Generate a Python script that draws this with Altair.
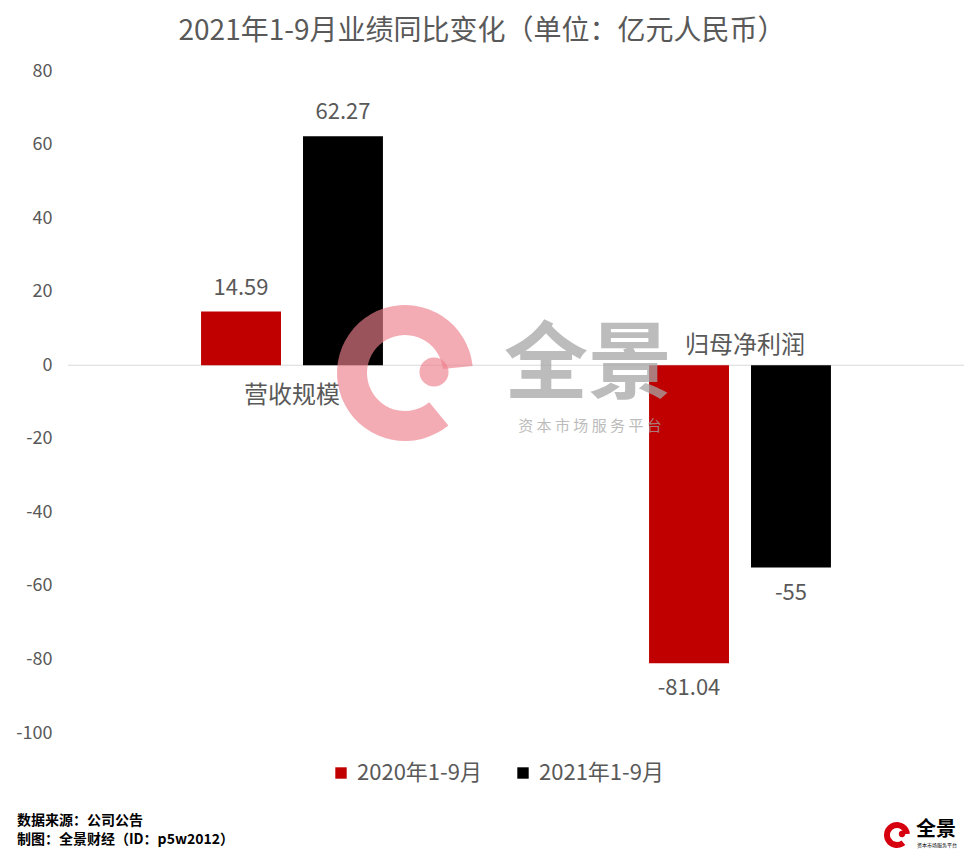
import altair as alt
import pandas as pd

categories = ["营收规模", "归母净利润"]
series = ["2020年1-9月", "2021年1-9月"]
values_2020 = [14.59, -81.04]
values_2021 = [62.27, -55]
y_ticks = [-100, -80, -60, -40, -20, 0, 20, 40, 60, 80]
title_text = "2021年1-9月业绩同比变化（单位：亿元人民币）"
footer_lines = ["数据来源：公司公告", "制图：全景财经（ID：p5w2012）"]
watermark_big = ["全景"]
watermark_small = ["资本市场服务平台"]

rows = []
for i, c in enumerate(categories):
    rows.append({"cat": c, "series": series[0], "value": values_2020[i]})
    rows.append({"cat": c, "series": series[1], "value": values_2021[i]})
df = pd.DataFrame(rows)

FONT = "Noto Sans CJK SC"
GRAY = "#595959"

x_enc = alt.X("cat:N", sort=categories, axis=None,
              scale=alt.Scale(paddingInner=0.594, paddingOuter=0.297))
xo_enc = alt.XOffset("series:N", sort=series,
                     scale=alt.Scale(paddingInner=0.216, paddingOuter=0))
y_enc = alt.Y("value:Q",
              scale=alt.Scale(domain=[-100, 80], nice=False, zero=False),
              axis=alt.Axis(values=y_ticks, title=None, grid=False, domain=False,
                            ticks=False, labelFontSize=18, labelColor=GRAY,
                            labelFont=FONT, labelPadding=16,
                            labelExpr="'' + datum.value"))

base = alt.Chart(df).transform_calculate(label="'' + datum.value")

bars = base.mark_bar().encode(
    x=x_enc, xOffset=xo_enc, y=y_enc,
    color=alt.Color("series:N", sort=series,
                    scale=alt.Scale(domain=series, range=["#C00000", "#000000"]),
                    legend=alt.Legend(title=None, orient="none", legendX=262, legendY=691,
                                      direction="horizontal", symbolType="square",
                                      symbolSize=130, labelFontSize=22, labelColor=GRAY,
                                      labelFont=FONT, columnPadding=30, labelOffset=5,
                                      symbolStrokeWidth=0)),
)

zero = alt.Chart(pd.DataFrame({"v": [0]})).mark_rule(color="#D9D9D9", strokeWidth=1).encode(
    y=alt.Y("v:Q")
)

pos_labels = base.transform_filter("datum.value >= 0").mark_text(
    baseline="bottom", dy=-12, fontSize=22, color=GRAY, font=FONT
).encode(x=x_enc, xOffset=xo_enc, y=alt.Y("value:Q"), text=alt.Text("label:N"))

neg_labels = base.transform_filter("datum.value < 0").mark_text(
    baseline="top", dy=15, fontSize=22, color=GRAY, font=FONT
).encode(x=x_enc, xOffset=xo_enc, y=alt.Y("value:Q"), text=alt.Text("label:N"))

cat_df = pd.DataFrame({"cat": categories, "zero": [0, 0]})
cat_below = alt.Chart(cat_df).transform_filter(
    alt.datum.cat == categories[0]
).mark_text(baseline="middle", dy=31, fontSize=24, color=GRAY, font=FONT).encode(
    x=x_enc, y=alt.Y("zero:Q"), text="cat:N")
cat_above = alt.Chart(cat_df).transform_filter(
    alt.datum.cat == categories[1]
).mark_text(baseline="middle", dy=-19, dx=5, fontSize=24, color=GRAY, font=FONT).encode(
    x=x_enc, y=alt.Y("zero:Q"), text="cat:N")

wm_df = pd.DataFrame({"big": watermark_big, "small": watermark_small})
PINK = "#EE7F8C"
wm_arc = alt.Chart(wm_df).mark_arc(
    radius=68, radius2=38, theta=2.45, theta2=7.75, color=PINK, opacity=0.65
).encode(x=alt.value(337), y=alt.value(302))
wm_blob = alt.Chart(wm_df).mark_circle(
    size=850, color=PINK, opacity=0.65
).encode(x=alt.value(366), y=alt.value(301))
wm_big = alt.Chart(wm_df).mark_text(
    fontSize=84, font=FONT, fontWeight="bold", color="#A6A6A6", opacity=0.75,
    align="center", baseline="middle"
).encode(x=alt.value(520), y=alt.value(296), text="big:N")
wm_small = alt.Chart(wm_df).transform_calculate(
    spaced="join(split(datum.small, ''), ' ')"
).mark_text(
    fontSize=15, font=FONT, color="#A6A6A6", opacity=0.75,
    align="center", baseline="middle"
).encode(x=alt.value(522), y=alt.value(355), text="spaced:N")

foot_df = pd.DataFrame({"line": footer_lines, "i": [0, 1]})
foot1 = alt.Chart(foot_df).transform_filter("datum.i == 0").mark_text(
    fontSize=14, font=FONT, fontWeight="bold", color="#000000", align="left", baseline="middle"
).encode(x=alt.value(-51), y=alt.value(750), text="line:N")
foot2 = alt.Chart(foot_df).transform_filter("datum.i == 1").mark_text(
    fontSize=14, font=FONT, fontWeight="bold", color="#000000", align="left", baseline="middle"
).encode(x=alt.value(-51), y=alt.value(769), text="line:N")

logo_arc = alt.Chart(wm_df).mark_arc(
    radius=13, radius2=7, theta=2.45, theta2=7.75, color="#D7000F"
).encode(x=alt.value(829), y=alt.value(764))
logo_blob = alt.Chart(wm_df).mark_circle(
    size=40, color="#D7000F", opacity=1
).encode(x=alt.value(834), y=alt.value(763))
logo_txt = alt.Chart(wm_df).mark_text(
    fontSize=20, font=FONT, fontWeight="bold", color="#000000", align="left", baseline="middle"
).encode(x=alt.value(848), y=alt.value(759), text="big:N")
logo_small = alt.Chart(wm_df).mark_text(
    fontSize=5, font=FONT, color="#000000", align="left", baseline="middle"
).encode(x=alt.value(849), y=alt.value(774), text="small:N")

chart = alt.layer(
    zero, bars, pos_labels, neg_labels, cat_below, cat_above,
    wm_arc, wm_blob, wm_big, wm_small, foot1, foot2,
    logo_arc, logo_blob, logo_txt, logo_small
).resolve_scale(y="shared").properties(
    width=896, height=662,
    autosize=alt.AutoSizeParams(type="none"),
    padding={"left": 60, "top": 63, "right": 5, "bottom": 116},
    title=alt.TitleParams(title_text, fontSize=28, font=FONT, fontWeight="normal",
                          color=GRAY, anchor="middle", dx=-34, offset=16),
).configure_view(stroke=None)

chart.save("out.html", embed_options={"renderer": "svg", "actions": False})
